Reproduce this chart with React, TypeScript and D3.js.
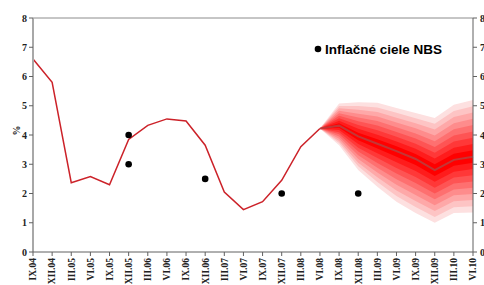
import React from "react";
import * as d3 from "d3";

const categories = ["IX.04","XII.04","III.05","VI.05","IX.05","XII.05","III.06","VI.06","IX.06","XII.06","III.07","VI.07","IX.07","XII.07","III.08","VI.08","IX.08","XII.08","III.09","VI.09","IX.09","XII.09","III.10","VI.10"];
const inflation = [6.6,5.8,2.37,2.58,2.3,3.85,4.33,4.55,4.48,3.65,2.05,1.45,1.72,2.45,3.6,4.22];
const forecastCats = ["VI.08","IX.08","XII.08","III.09","VI.09","IX.09","XII.09","III.10","VI.10"];
const forecastCenter = [4.22,4.32,3.95,3.7,3.45,3.18,2.8,3.15,3.26];
const forecastUpper = [4.22,5.08,5.12,5.1,4.92,4.75,4.58,5.03,5.2];
const forecastLower = [4.22,3.65,2.8,2.23,1.72,1.33,1.0,1.33,1.35];
const targetCats = ["XII.05","XII.05","XII.06","XII.07","XII.08"];
const targetVals = [4,3,2.5,2,2];
const yTicks = [0,1,2,3,4,5,6,7,8];
const legendLabel = "Inflačné ciele NBS";
const nBands = 9;

export default function App() {
  const W = 484, H = 285;
  const x = d3.scalePoint<string>().domain(categories).range([33, 473]);
  const y = d3.scaleLinear().domain([0, 8]).range([252, 18]);
  const line = d3.line<[string, number]>().x(d => x(d[0])!).y(d => y(d[1]));
  const histPts: [string, number][] = inflation.map((v, i) => [categories[i], v]);
  const centerPts: [string, number][] = forecastCenter.map((v, i) => [forecastCats[i], v]);
  const area = d3.area<number>()
    .x(i => x(forecastCats[i])!)
    .y0(i => 0)
    .y1(i => 0);
  const bands = d3.range(nBands).map(b => {
    const f = (nBands - b) / nBands;
    const a = d3.area<number>()
      .x(i => x(forecastCats[i])!)
      .y0(i => y(forecastCenter[i] + (forecastLower[i] - forecastCenter[i]) * f))
      .y1(i => y(forecastCenter[i] + (forecastUpper[i] - forecastCenter[i]) * f));
    const color = d3.interpolateRgb("#fde0e0", "#ff0000")(b / (nBands - 1));
    return { d: a(d3.range(forecastCats.length))!, color };
  });
  void area;
  const serif = "'Liberation Serif', 'Times New Roman', serif";
  return (
    <svg width={W} height={H} style={{ position: "absolute", left: 0, top: 0, background: "#fff" }}>
      {/* fan */}
      {bands.map((b, i) => (
        <path key={i} d={b.d} fill={b.color} stroke="none" />
      ))}
      <path d={line(centerPts)!} fill="none" stroke="#b84040" strokeWidth={2} strokeOpacity={0.85} />
      <path d={line(histPts)!} fill="none" stroke="#cc2229" strokeWidth={1.5} />
      {/* frame */}
      <line x1={33} x2={473} y1={18} y2={18} stroke="#8c8c8c" strokeWidth={1} />
      <line x1={33} x2={33} y1={18} y2={252} stroke="#a8a8a8" strokeWidth={2} />
      <line x1={473} x2={473} y1={18} y2={252} stroke="#606060" strokeWidth={1} />
      <line x1={33} x2={473} y1={252} y2={252} stroke="#606060" strokeWidth={1} />
      {/* y ticks */}
      {yTicks.map(t => (
        <g key={t}>
          <line x1={29} x2={33} y1={y(t)} y2={y(t)} stroke="#606060" />
          <line x1={473} x2={477} y1={y(t)} y2={y(t)} stroke="#606060" />
          <text x={27} y={y(t)} dy="0.35em" textAnchor="end" fontFamily={serif} fontSize={10} fontWeight="bold" fill="#222">{t}</text>
          <text x={480} y={y(t)} dy="0.35em" textAnchor="start" fontFamily={serif} fontSize={10} fontWeight="bold" fill="#222">{t}</text>
        </g>
      ))}
      <text transform={`translate(16,${y(4.15)}) rotate(-90)`} textAnchor="middle" dy="0.35em" fontFamily={serif} fontSize={10} fontWeight="bold" fill="#222">%</text>
      {/* x ticks */}
      {categories.map(c => (
        <g key={c}>
          <line x1={x(c)} x2={x(c)} y1={252} y2={256} stroke="#606060" />
          <text transform={`translate(${x(c)},258) rotate(-90)`} textAnchor="end" dy="0.35em" fontFamily={serif} fontSize={9.5} fontWeight="bold" fill="#222">{c}</text>
        </g>
      ))}
      {/* targets */}
      {targetVals.map((v, i) => (
        <circle key={i} cx={x(targetCats[i])} cy={y(v)} r={3.3} fill="#000" />
      ))}
      {/* legend */}
      <circle cx={318} cy={49} r={3.3} fill="#000" />
      <text x={325} y={54} fontFamily="'Liberation Sans', Arial, sans-serif" fontSize={13.5} fontWeight="bold" fill="#000">{legendLabel}</text>
    </svg>
  );
}
